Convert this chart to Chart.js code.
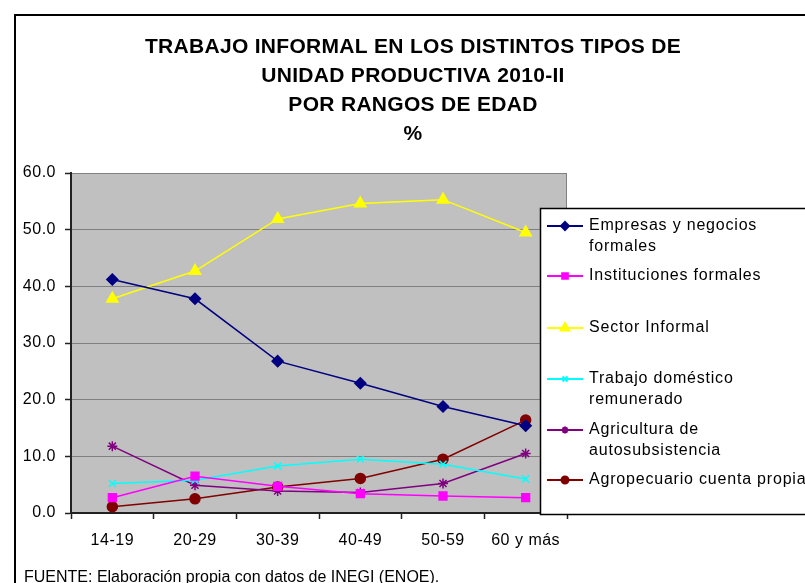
<!DOCTYPE html>
<html>
<head>
<meta charset="utf-8">
<script src="https://cdn.jsdelivr.net/npm/chart.js@4/dist/chart.umd.min.js"></script>
<style>
  html, body { margin: 0; padding: 0; background: #fff; overflow: hidden; }
  #wrap { position: relative; width: 805px; height: 583px; }
</style>
</head>
<body>
<div id="wrap"><canvas id="chart" width="805" height="583"></canvas></div>
<script>
// ---- data ----
const ageGroups = ['14-19', '20-29', '30-39', '40-49', '50-59', '60 y más'];
const yTicks = [0, 10, 20, 30, 40, 50, 60];

const empresas = [41.2, 37.8, 26.8, 22.9, 18.8, 15.4];
const instituciones = [2.7, 6.5, 4.7, 3.4, 3.0, 2.7];
const sectorInformal = [37.8, 42.7, 51.9, 54.6, 55.3, 49.5];
const domestico = [5.2, 5.8, 8.3, 9.5, 8.6, 6.0];
const agricultura = [11.8, 4.9, 3.9, 3.6, 5.2, 10.5];
const agropecuario = [1.1, 2.5, 4.6, 6.1, 9.5, 16.4];

const seriesNames = [
  ['Empresas y negocios', 'formales'],
  ['Instituciones formales'],
  ['Sector Informal'],
  ['Trabajo doméstico', 'remunerado'],
  ['Agricultura de', 'autosubsistencia'],
  ['Agropecuario cuenta propia']
];
const titleLines = ['TRABAJO INFORMAL EN LOS DISTINTOS TIPOS DE', 'UNIDAD PRODUCTIVA 2010-II', 'POR RANGOS DE EDAD', '%'];
const footerText = 'FUENTE: Elaboración propia con datos de INEGI (ENOE).';

const FONT = '"Liberation Sans", Arial, sans-serif';

function series(i, data, color, style, radius) {
  return {
    label: seriesNames[i].join(' '),
    data: data,
    borderColor: color,
    backgroundColor: color,
    pointBackgroundColor: color,
    pointBorderColor: color,
    pointStyle: style,
    pointRadius: radius,
    pointBorderWidth: 1.5,
    borderWidth: 1.5,
    tension: 0,
    fill: false
  };
}

// background, plot area, title, legend, footer
const decor = {
  id: 'decor',
  beforeDraw(chart) {
    const ctx = chart.ctx, a = chart.chartArea;
    ctx.save();
    ctx.fillStyle = '#fff';
    ctx.fillRect(0, 0, chart.width, chart.height);
    ctx.strokeStyle = '#000';
    ctx.lineWidth = 2;
    ctx.strokeRect(15, 15, 900, 900);
    ctx.fillStyle = '#C0C0C0';
    ctx.fillRect(a.left, a.top, a.right - a.left, a.bottom - a.top);
    ctx.strokeStyle = '#808080';
    ctx.lineWidth = 1;
    ctx.strokeRect(a.left + 0.5, a.top + 0.5, a.right - a.left - 1, a.bottom - a.top);
    ctx.restore();
    ctx.letterSpacing = '0.5px';
  },
  afterDraw(chart) {
    const ctx = chart.ctx;
    ctx.save();
    // title
    ctx.fillStyle = '#000';
    ctx.textAlign = 'center';
    ctx.textBaseline = 'alphabetic';
    ctx.font = 'bold 21px ' + FONT;
    ctx.letterSpacing = '0.3px';
    titleLines.forEach((t, i) => ctx.fillText(t, 413, 52.5 + i * 29));

    // legend
    const lx = 540, ly = 208;
    ctx.fillStyle = '#fff';
    ctx.fillRect(lx, ly, 300, 306);
    ctx.strokeStyle = '#000';
    ctx.lineWidth = 1.5;
    ctx.strokeRect(lx + 0.5, ly + 0.5, 300, 306);
    const rowY = [226, 276, 328, 379, 430, 480];
    ctx.font = '16px ' + FONT;
    ctx.letterSpacing = '0.8px';
    ctx.textAlign = 'left';
    ctx.textBaseline = 'middle';
    chart.data.datasets.forEach((ds, i) => {
      const y = rowY[i];
      ctx.strokeStyle = ds.borderColor;
      ctx.lineWidth = 2;
      ctx.beginPath();
      ctx.moveTo(547, y);
      ctx.lineTo(583, y);
      ctx.stroke();
      ctx.fillStyle = ds.borderColor;
      Chart.helpers.drawPoint(ctx, {
        pointStyle: ds.pointStyle,
        radius: Math.max(3.5, ds.pointRadius - 1.5),
        borderWidth: 1.5,
        rotation: 0
      }, 565, y);
      ctx.fillStyle = '#000';
      seriesNames[i].forEach((line, k) => ctx.fillText(line, 589, y + k * 21));
    });

    // footer
    ctx.textBaseline = 'alphabetic';
    ctx.letterSpacing = '0px';
    ctx.fillText(footerText, 24, 582);
    ctx.restore();
  }
};

new Chart(document.getElementById('chart').getContext('2d'), {
  type: 'line',
  data: {
    labels: ageGroups,
    datasets: [
      series(0, empresas, '#000080', 'rectRot', 5.5),
      series(1, instituciones, '#FF00FF', 'rect', 5.5),
      series(2, sectorInformal, '#FFFF00', 'triangle', 6.5),
      series(3, domestico, '#00FFFF', 'crossRot', 5),
      series(4, agricultura, '#800080', 'star', 5),
      series(5, agropecuario, '#800000', 'circle', 5)
    ]
  },
  options: {
    responsive: false,
    animation: false,
    devicePixelRatio: 1,
    layout: { padding: { left: 0, top: 173, right: 238, bottom: 30 } },
    plugins: {
      legend: { display: false },
      title: { display: false },
      tooltip: { enabled: false }
    },
    scales: {
      x: {
        offset: true,
        grid: { offset: true, drawOnChartArea: false, drawTicks: true, tickLength: 6, tickColor: '#222', tickWidth: 1.5 },
        border: { display: true, color: '#222', width: 2 },
        ticks: { color: '#000', font: { family: FONT, size: 16 }, padding: 12, maxRotation: 0 },
        afterFit(scale) { scale.height = 40; }
      },
      y: {
        min: 0,
        max: 60,
        afterBuildTicks(scale) { scale.ticks = yTicks.map(v => ({ value: v })); },
        grid: { color: '#808080', lineWidth: 1, drawTicks: true, tickLength: 6, tickColor: '#222', tickWidth: 1.5 },
        border: { display: true, color: '#222', width: 2 },
        ticks: { color: '#000', font: { family: FONT, size: 16 }, padding: 9, callback: v => Number(v).toFixed(1) },
        afterFit(scale) { scale.width = 71; }
      }
    }
  },
  plugins: [decor]
});
</script>
</body>
</html>
